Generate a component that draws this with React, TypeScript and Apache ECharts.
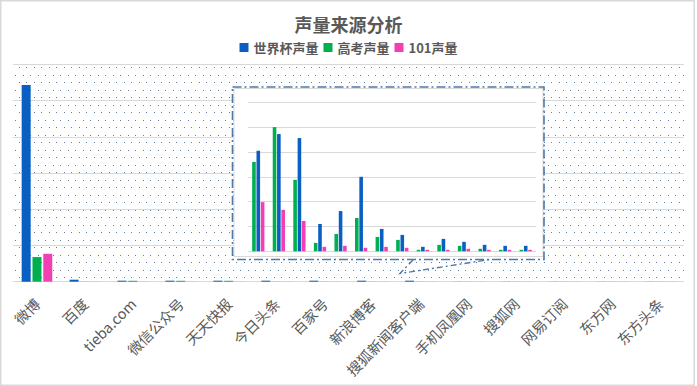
import React, { useEffect, useRef } from "react";
import * as echarts from "echarts";

// ---------- data ----------
const categories = [
  "微博", "百度", "tieba.com", "微信公众号", "天天快报", "今日头条", "百家号",
  "新浪博客", "搜狐新闻客户端", "手机凤凰网", "搜狐网", "网易订阅", "东方网", "东方头条",
];
const seriesNames = ["世界杯声量", "高考声量", "101声量"];
const worldCup = [543000, 5500, 2800, 2800, 2800, 2800, 2800, 2800, 2800, 300, 300, 300, 300, 300];
const gaokao = [68000, 300, 2500, 2500, 2500, 300, 300, 300, 300, 200, 200, 200, 200, 200];
const v101 = [77000, 200, 200, 200, 200, 200, 200, 200, 200, 200, 200, 200, 200, 200];

// zoomed inset (detail view)
const insetGaokao = [3600, 5000, 2880, 340, 700, 1340, 580, 460, 60, 260, 220, 100, 60, 60];
const insetWorldCup = [4050, 4720, 4560, 1100, 1620, 3000, 900, 660, 180, 500, 380, 260, 220, 220];
const insetV101 = [1980, 1670, 1220, 180, 220, 140, 180, 140, 60, 60, 100, 60, 60, 60];

const mainMax = 600000;
const mainInterval = 100000;
const insetMax = 6000;
const insetInterval = 1000;

const BLUE = "#0a5fc2";
const GREEN = "#00b050";
const PINK = "#f23fb4";
const TEXT = "#595959";
const GRIDC = "#d9d9d9";
const FONT = "'Noto Sans CJK SC', 'Noto Sans', sans-serif";

function makeDots(): HTMLCanvasElement {
  const c = document.createElement("canvas");
  c.width = 15;
  c.height = 15;
  const ctx = c.getContext("2d")!;
  ctx.fillStyle = "#5a80ad";
  ctx.fillRect(0, 0, 1, 1);
  ctx.fillRect(8, 0, 1, 1);
  ctx.fillRect(4, 7, 1, 1);
  ctx.fillRect(11, 7, 1, 1);
  return c;
}

export default function App() {
  const ref = useRef<HTMLDivElement>(null);
  useEffect(() => {
    document.body.style.margin = "0";
    const chart = echarts.init(ref.current!, undefined, { renderer: "svg" });
    const dots = makeDots();
    const borderDash = { stroke: "#4f78a6", lineWidth: 1.6, lineDash: [9, 3, 2, 3], fill: null };
    chart.setOption({
      animation: false,
      backgroundColor: "#ffffff",
      title: {
        text: "声量来源分析",
        left: "center",
        top: 10,
        textStyle: { fontSize: 18, fontWeight: "bold", color: TEXT, fontFamily: FONT },
      },
      legend: {
        data: seriesNames,
        top: 36,
        left: "center",
        itemWidth: 9,
        itemHeight: 9,
        itemGap: 5,
        icon: "rect",
        textStyle: { fontSize: 13, fontWeight: "bold", color: TEXT, fontFamily: FONT },
      },
      grid: [
        {
          left: 13, right: 13, top: 64.3, bottom: 104.3,
          show: true, borderWidth: 0,
          backgroundColor: { image: dots, repeat: "repeat" },
        },
        { left: 248, right: 161, top: 102.3, bottom: 134.7, show: false },
      ],
      xAxis: [
        {
          type: "category", gridIndex: 0, data: categories,
          axisLine: { show: false }, axisTick: { show: false },
          axisLabel: { interval: 0, rotate: 45, fontSize: 14.5, color: TEXT, fontFamily: FONT, margin: 19 },
        },
        {
          type: "category", gridIndex: 1, data: categories,
          axisLine: { show: false }, axisTick: { show: false }, axisLabel: { show: false },
        },
      ],
      yAxis: [
        {
          type: "value", gridIndex: 0, min: 0, max: mainMax, interval: mainInterval,
          axisLabel: { show: false }, axisLine: { show: false }, axisTick: { show: false },
          splitLine: { lineStyle: { color: GRIDC, width: 1 } },
        },
        {
          type: "value", gridIndex: 1, min: 0, max: insetMax, interval: insetInterval, z: 6,
          axisLabel: { show: false }, axisLine: { show: false }, axisTick: { show: false },
          splitLine: { lineStyle: { color: GRIDC, width: 1 } },
        },
      ],
      series: [
        { name: seriesNames[0], type: "bar", data: worldCup, itemStyle: { color: BLUE }, barWidth: 9, barGap: "20%" },
        { name: seriesNames[1], type: "bar", data: gaokao, itemStyle: { color: GREEN }, barWidth: 9, barGap: "20%" },
        { name: seriesNames[2], type: "bar", data: v101, itemStyle: { color: PINK }, barWidth: 9, barGap: "20%" },
        { name: seriesNames[1], type: "bar", xAxisIndex: 1, yAxisIndex: 1, z: 7, data: insetGaokao, itemStyle: { color: GREEN }, barWidth: 3.6, barGap: "20%" },
        { name: seriesNames[0], type: "bar", xAxisIndex: 1, yAxisIndex: 1, z: 7, data: insetWorldCup, itemStyle: { color: BLUE }, barWidth: 3.6, barGap: "20%" },
        { name: seriesNames[2], type: "bar", xAxisIndex: 1, yAxisIndex: 1, z: 7, data: insetV101, itemStyle: { color: PINK }, barWidth: 3.6, barGap: "20%" },
      ],
      graphic: [
        {
          type: "rect", z: 1, silent: true,
          shape: { x: 0.75, y: 0.75, width: 693.5, height: 384.5 },
          style: { fill: null, stroke: GRIDC, lineWidth: 1.5 },
        },
        {
          type: "rect", z: 5, silent: true,
          shape: { x: 234, y: 88.5, width: 309, height: 168 },
          style: { fill: "#ffffff", stroke: GRIDC, lineWidth: 1 },
        },
        {
          type: "rect", z: 8, silent: true,
          shape: { x: 232.5, y: 87, width: 311.5, height: 172.5 },
          style: borderDash,
        },
        {
          type: "polyline", z: 8, silent: true,
          shape: { points: [[413, 260], [400, 273.5], [490, 259.5]] },
          style: { stroke: "#4f78a6", lineWidth: 1.4, lineDash: [6, 3, 2, 3], fill: null },
        },
      ],
    });
    return () => chart.dispose();
  }, []);
  return <div ref={ref} style={{ width: 697, height: 386 }} />;
}
